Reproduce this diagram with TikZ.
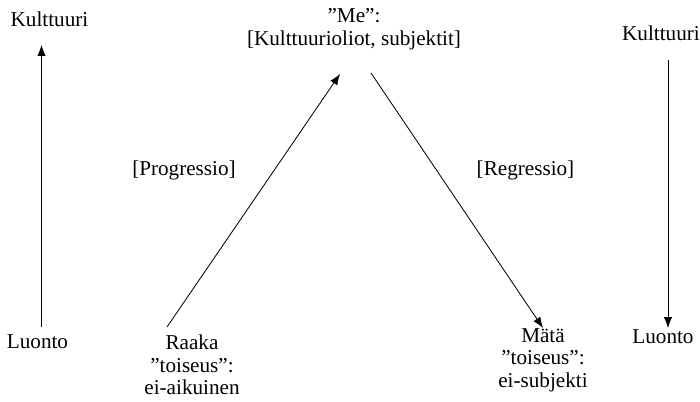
\documentclass[tikz,border=0pt]{standalone}
\usepackage{fontspec}
\setmainfont{Liberation Serif}
\usetikzlibrary{arrows.meta}

\begin{document}
\begin{tikzpicture}[x=0.6pt,y=-0.6pt,
        every node/.style={font=\fontsize{12.7}{13.6}\selectfont,align=center,inner sep=0pt},
        nuoli/.style={-{Latex[length=6.5pt,width=5pt]},line width=0.5pt}]
        \useasboundingbox (0,0) rectangle (700,402);
        % tekstit
        \node(kultL) at (49.5,19) {Kulttuuri};
        \node(luontoL) at (37.5,342) {Luonto};
        \node(me) at (354,29) {”Me”:\\{}[Kulttuurioliot, subjektit]};
        \node(prog) at (184,170) {[Progressio]};
        \node(regr) at (525.5,170) {[Regressio]};
        \node(raaka) at (192,365) {Raaka\\”toiseus”:\\ei-aikuinen};
        \node(mata) at (543,360) {Mätä\\”toiseus”:\\ei-subjekti};
        \node(kultR) at (661,33) {Kulttuuri};
        \node(luontoR) at (663,337) {Luonto};
        % nuolten päät
        \coordinate(a1) at (41.5,327);
        \coordinate(a2) at (41.5,45);
        \coordinate(b1) at (167,327);
        \coordinate(b2) at (340,74);
        \coordinate(c1) at (371,73);
        \coordinate(c2) at (543,328);
        \coordinate(d1) at (668,60);
        \coordinate(d2) at (668,328);
        \draw[nuoli](a1)--(a2);
        \draw[nuoli](b1)--(b2);
        \draw[nuoli](c1)--(c2);
        \draw[nuoli](d1)--(d2);
\end{tikzpicture}
\end{document}
